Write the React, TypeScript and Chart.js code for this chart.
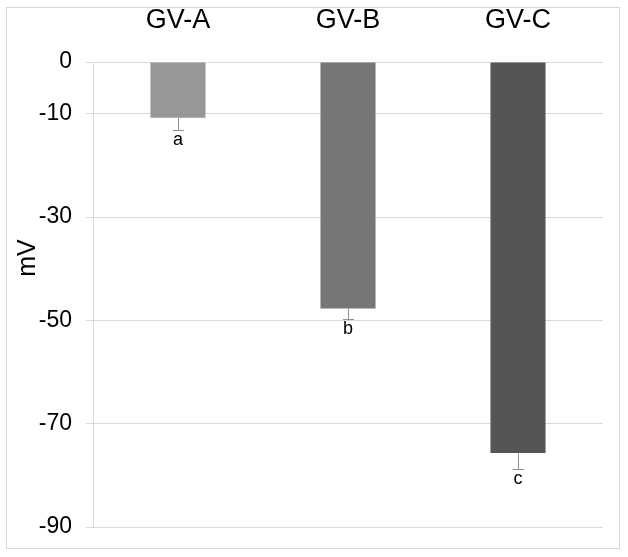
import React, { useEffect, useRef } from "react";
import { Chart, registerables } from "chart.js";

Chart.register(...registerables);

const categories = ["GV-A", "GV-B", "GV-C"];
const values = [-10.8, -47.7, -75.7];
const errors = [2.4, 2.1, 3.1];
const letters = ["a", "b", "c"];
const barColors = ["#979797", "#767676", "#555555"];
const yTicks = [0, -10, -30, -50, -70, -90];
const yLabel = "mV";

const FONT = "'Liberation Sans', Arial, sans-serif";

const annotatePlugin = {
  id: "annotate",
  afterDatasetsDraw(chart: any) {
    const ctx = chart.ctx;
    const meta = chart.getDatasetMeta(0);
    const y = chart.scales.y;
    ctx.save();
    meta.data.forEach((bar: any, i: number) => {
      const x = bar.x;
      const yTop = y.getPixelForValue(values[i]);
      const yEnd = y.getPixelForValue(values[i] - errors[i]);
      ctx.strokeStyle = "#8f8f8f";
      ctx.lineWidth = 1;
      ctx.beginPath();
      ctx.moveTo(Math.round(x) + 0.5, yTop);
      ctx.lineTo(Math.round(x) + 0.5, Math.round(yEnd) + 0.5);
      ctx.moveTo(Math.round(x) - 5, Math.round(yEnd) + 0.5);
      ctx.lineTo(Math.round(x) + 6, Math.round(yEnd) + 0.5);
      ctx.stroke();
      ctx.fillStyle = "#000000";
      ctx.font = `18px ${FONT}`;
      ctx.textAlign = "center";
      ctx.textBaseline = "top";
      ctx.fillText(letters[i], x, yEnd + 1);
    });
    ctx.translate(28, 258);
    ctx.rotate(-Math.PI / 2);
    ctx.font = `25px ${FONT}`;
    ctx.fillStyle = "#000000";
    ctx.textAlign = "center";
    ctx.textBaseline = "middle";
    ctx.fillText(yLabel, 0, 0);
    ctx.restore();
  },
};

export default function App() {
  const ref = useRef<HTMLCanvasElement | null>(null);
  useEffect(() => {
    if (!ref.current) return;
    const chart = new Chart(ref.current, {
      type: "bar",
      data: {
        labels: categories,
        datasets: [
          {
            data: values,
            backgroundColor: barColors,
            borderWidth: 0,
            barPercentage: 0.324,
            categoryPercentage: 1,
          },
        ],
      },
      options: {
        animation: false,
        responsive: false,
        layout: { padding: { top: 0, left: 0, right: 25, bottom: 30 } },
        plugins: { legend: { display: false }, tooltip: { enabled: false } },
        scales: {
          x: {
            position: "top",
            grid: { display: false, drawTicks: false, tickLength: 0 },
            border: { display: false },
            ticks: {
              color: "#000000",
              font: { family: FONT, size: 27 },
              padding: 25,
              maxRotation: 0,
            },
            afterFit(scale: any) {
              scale.height = 62;
            },
          },
          y: {
            min: -90,
            max: 0,
            grid: { color: "#d9d9d9", tickLength: 7, lineWidth: 1 },
            border: { display: true, color: "#d9d9d9" },
            ticks: {
              color: "#000000",
              font: { family: FONT, size: 23 },
              padding: 14,
            },
            afterBuildTicks(scale: any) {
              scale.ticks = yTicks.map((v) => ({ value: v }));
            },
            afterFit(scale: any) {
              scale.width = 93;
            },
          },
        },
      },
      plugins: [annotatePlugin],
    });
    return () => chart.destroy();
  }, []);

  return (
    <div style={{ position: "fixed", left: 0, top: 0, width: 628, height: 557, background: "#ffffff" }}>
      <div
        style={{
          position: "absolute",
          left: 6,
          top: 7,
          width: 612,
          height: 540,
          border: "1px solid #d6d6d6",
        }}
      />
      <canvas ref={ref} width={628} height={557} style={{ position: "absolute", left: 0, top: 0 }} />
    </div>
  );
}
